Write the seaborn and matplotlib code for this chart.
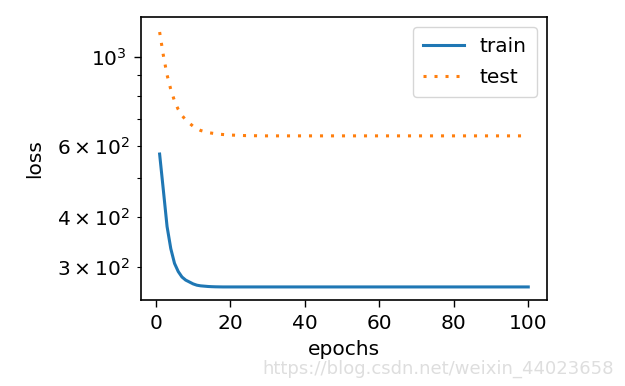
import numpy as np
import pandas as pd
import seaborn as sns
import matplotlib.pyplot as plt

# values (loss per epoch, log scale)
epochs = list(range(1, 101))
train_loss = [573, 466, 378, 333, 306, 292, 283, 278, 275, 272,
              270, 269, 268.5, 268, 267.7, 267.5, 267.4, 267.3, 267.3, 267.3] + [267.3] * 80
test_loss = [1154, 1010, 902, 830, 777, 740, 715, 697, 684, 672,
             663, 656, 652, 648, 646, 644, 642, 641, 640, 639,
             638.5, 638, 637.5, 637, 637, 636.5, 636.5, 636, 636, 636] + [636] * 70

df = pd.DataFrame({'epochs': epochs, 'train': train_loss, 'test': test_loss})

plt.rcParams['font.family'] = ['DejaVu Sans']
plt.rcParams['font.size'] = 14.5

fig = plt.figure(figsize=(6.25, 3.86), dpi=100)
ax = fig.add_axes([0.2256, 0.2228, 0.6494, 0.7332])

sns.lineplot(data=df, x='epochs', y='train', ax=ax, color='#1f77b4',
             linewidth=2.2, label='train')
sns.lineplot(data=df, x='epochs', y='test', ax=ax, color='#ff7f0e',
             linewidth=2.2, linestyle=(0, (1, 2.6)), label='test')

ax.set_yscale('log')
ax.set_ylim(248, 1258)
ax.set_xlim(-4, 105)
ax.set_xticks([0, 20, 40, 60, 80, 100])
ax.set_xlabel('epochs', fontsize=14.5, labelpad=5)
ax.set_ylabel('loss', fontsize=14.5, labelpad=9)
ax.tick_params(which='major', length=5, width=1, labelsize=14.5, pad=5)
ax.tick_params(which='minor', length=3, width=0.8, labelsize=14.5, pad=5)
for s in ax.spines.values():
    s.set_linewidth(1.2)

ax.legend(loc='upper right', fontsize=14.5, handlelength=2.0, borderpad=0.5,
          labelspacing=0.6)

# faint watermark at the bottom right
fig.text(0.982, 0.045, 'https://blog.csdn.net/weixin_44023658', ha='right', va='center',
         fontsize=13, color='#dedede')

fig.savefig('out.png', dpi=100)
